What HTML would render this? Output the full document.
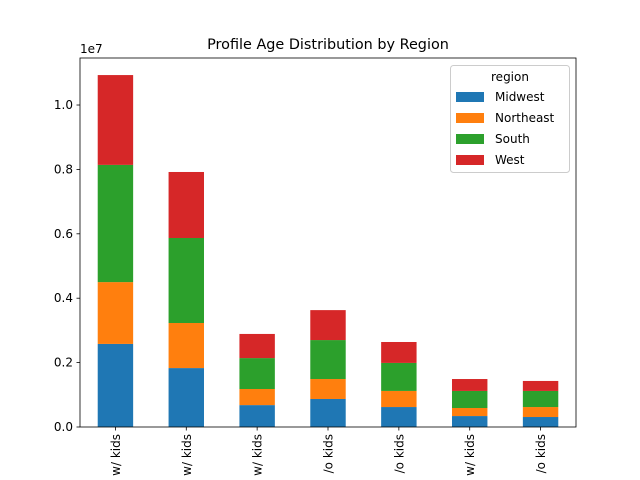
<!DOCTYPE html>
<html><head><meta charset="utf-8"><style>
html,body{margin:0;padding:0;background:#fff;overflow:hidden;width:640px;height:480px}
svg{display:block;font-family:"DejaVu Sans","Liberation Sans",sans-serif;overflow:hidden}
</style></head><body>
<svg id="chart" width="640" height="480" viewBox="0 0 640 480">
<rect width="640" height="480" fill="#fff"/>
<text x="328" y="49" font-size="14.4" text-anchor="middle">Profile Age Distribution by Region</text>
<g id="bars"></g>
<g id="axes"></g>
<g id="xlabels"></g>
</svg>
<script>
const categories = ["Married w/ kids","Single w/ kids","Other w/ kids","Married w/o kids","Single w/o kids","Senior w/ kids","Senior w/o kids"];
const seriesNames = ["Midwest","Northeast","South","West"];
const midwest = [2580000,1830000,680000,870000,620000,340000,310000];
const northeast = [1920000,1400000,500000,620000,500000,250000,310000];
const south = [3640000,2640000,960000,1210000,870000,530000,500000];
const west = [2790000,2050000,750000,930000,650000,370000,310000];
const yTicks = [0,0.2,0.4,0.6,0.8,1.0];
const colors = ["#1f77b4","#ff7f0e","#2ca02c","#d62728"];
const series = [midwest,northeast,south,west];

const L=80,R=576,T=58,B=427;
const yMax=1.146e7;
const y = v => B - v/yMax*(B-T);
const step=(R-L)/categories.length;
const x = i => L + step*(i+0.5);
const NS="http://www.w3.org/2000/svg";
const bars=document.getElementById('bars'), axes=document.getElementById('axes'), xl=document.getElementById('xlabels');
function mk(tag,attrs,parent){const e=document.createElementNS(NS,tag);for(const k in attrs)e.setAttribute(k,attrs[k]);parent.appendChild(e);return e;}

categories.forEach((c,i)=>{
  let cum=0;
  series.forEach((s,j)=>{
    const r=mk('rect',{x:x(i)-step*0.25,y:y(cum+s[i]),width:step*0.5,height:y(cum)-y(cum+s[i]),fill:colors[j]},bars);
    
    
    cum+=s[i];
  });
  mk('line',{x1:x(i),x2:x(i),y1:B,y2:B+3.5,stroke:'#000','stroke-width':0.8},axes);
  const t=mk('text',{x:0,y:0,'font-size':12,'text-anchor':'end',transform:`translate(${x(i)+4.5},${B+7}) rotate(-90)`},xl);
  let s=c;
  t.textContent=s;
  while(s.length>1 && t.getComputedTextLength()>479-(B+7)){s=s.slice(1);t.textContent=s;}
  
  
});
yTicks.forEach(v=>{
  const yy=y(v*1e7);
  mk('line',{x1:L-3.5,x2:L,y1:yy,y2:yy,stroke:'#000','stroke-width':0.8},axes);
  const t=mk('text',{x:L-7,y:yy+4,'font-size':12,'text-anchor':'end'},axes);
  t.textContent=v.toFixed(1);
  
  
});
const off=mk('text',{x:L,y:T-5,'font-size':12},axes);off.textContent='1e7';


const fr=mk('rect',{x:L,y:T,width:R-L,height:B-T,fill:'none',stroke:'#000','stroke-width':0.8},axes);



const lg=mk('g',{},axes);


mk('rect',{x:450.5,y:65.5,width:119,height:107,rx:3,fill:'#fff',stroke:'#ccc','stroke-width':1},lg);
const lt=mk('text',{x:510,y:81,'font-size':12,'text-anchor':'middle'},lg);lt.textContent='region';
seriesNames.forEach((n,j)=>{
  const ey=97+j*21;
  const sw=mk('rect',{x:456,y:ey-5,width:28,height:10,fill:colors[j]},lg);
  
  
  const tx=mk('text',{x:495,y:ey+4,'font-size':12},lg);tx.textContent=n;
  
  
});
</script>
</body></html>
